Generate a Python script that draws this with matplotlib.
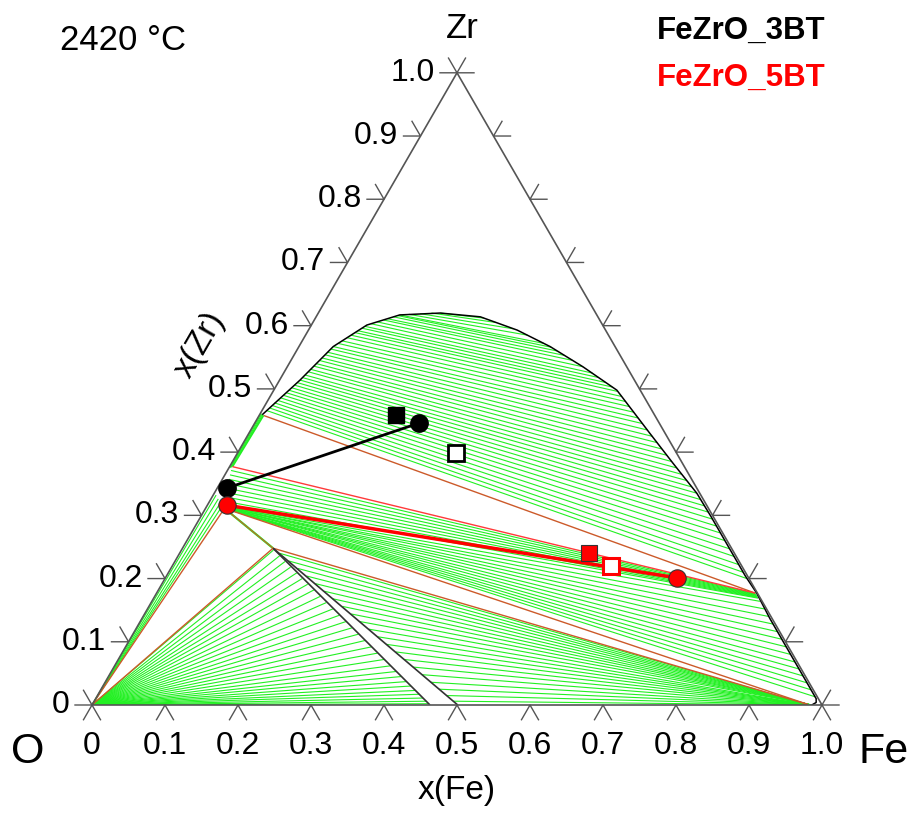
import numpy as np
import matplotlib
matplotlib.use("Agg")
import matplotlib.pyplot as plt
from matplotlib.collections import LineCollection

plt.rcParams['font.family'] = ['Liberation Sans', 'DejaVu Sans']

# ---------------- data (ternary: x(Fe), x(Zr)) ----------------
ticks = [0.0, 0.1, 0.2, 0.3, 0.4, 0.5, 0.6, 0.7, 0.8, 0.9, 1.0]
tick_labels = ["0", "0.1", "0.2", "0.3", "0.4", "0.5", "0.6", "0.7", "0.8", "0.9", "1.0"]

# liquid miscibility-gap boundary
dome_fe = [0.004, 0.028, 0.047, 0.076, 0.113, 0.167, 0.225, 0.286, 0.344, 0.405,
           0.470, 0.549, 0.604, 0.661, 0.699, 0.747, 0.793, 0.822, 0.860, 0.900,
           0.950, 0.975, 0.987, 0.990, 0.986]
dome_zr = [0.460, 0.514, 0.567, 0.601, 0.617, 0.620, 0.614, 0.593, 0.567, 0.535,
           0.498, 0.430, 0.383, 0.335, 0.298, 0.250, 0.204, 0.177, 0.137, 0.097,
           0.047, 0.022, 0.010, 0.004, 0.0]

# invariant points
pt_A = (0.006, 0.458)
pt_B = (0.004, 0.377)
pt_C = (0.820, 0.177)
pt_D = (0.026, 0.311)
pt_E = (0.124, 0.248)
pt_F = (0.980, 0.001)
pt_G = (0.463, 0.0)
pt_H = (0.501, 0.0)
pt_O = (0.0, 0.0)

# region 1 tie lines (L + L)
r1_lfe = [0.0058, 0.008, 0.0095, 0.011, 0.0132, 0.015, 0.0169, 0.019, 0.0206, 0.022,
          0.0243, 0.026, 0.028, 0.029, 0.0309, 0.033, 0.0341, 0.036, 0.0373, 0.039,
          0.0405, 0.042, 0.0438, 0.046, 0.047, 0.051, 0.0547, 0.059, 0.0624, 0.066,
          0.0683, 0.072, 0.0743, 0.081, 0.0876, 0.095, 0.0991, 0.106, 0.1107, 0.113,
          0.125, 0.140, 0.155, 0.167]
r1_lzr = [0.466, 0.470, 0.474, 0.478, 0.482, 0.486, 0.490, 0.494, 0.498, 0.502,
          0.506, 0.510, 0.514, 0.518, 0.522, 0.527, 0.531, 0.536, 0.540, 0.545,
          0.549, 0.554, 0.558, 0.563, 0.567, 0.572, 0.576, 0.581, 0.585, 0.589,
          0.592, 0.596, 0.599, 0.603, 0.606, 0.609, 0.611, 0.614, 0.616, 0.617,
          0.618, 0.619, 0.620, 0.620]
r1_rfe = [0.797, 0.787, 0.775, 0.762, 0.750, 0.737, 0.725, 0.714, 0.703, 0.692,
          0.6815, 0.671, 0.661, 0.649, 0.6373, 0.625, 0.6135, 0.602, 0.590, 0.578,
          0.5666, 0.555, 0.5432, 0.532, 0.5211, 0.511, 0.5002, 0.491, 0.4816, 0.472,
          0.4612, 0.449, 0.4349, 0.423, 0.405, 0.386, 0.3707, 0.357, 0.3459, 0.333,
          0.304, 0.280, 0.251, 0.231]
r1_rzr = [0.200, 0.210, 0.222, 0.235, 0.247, 0.260, 0.272, 0.283, 0.294, 0.305,
          0.315, 0.325, 0.335, 0.345, 0.355, 0.365, 0.375, 0.385, 0.395, 0.405,
          0.415, 0.425, 0.435, 0.445, 0.454, 0.463, 0.472, 0.480, 0.488, 0.496,
          0.503, 0.510, 0.518, 0.525, 0.535, 0.545, 0.553, 0.560, 0.566, 0.572,
          0.585, 0.595, 0.605, 0.612]

# narrow ZrO2 + liquid band along O-Zr edge
r0_lfe = [0.003, 0.002, 0.001]
r0_lzr = [0.376, 0.3755, 0.375]
r0_rfe = [0.0045, 0.003, 0.0015]
r0_rzr = [0.459, 0.460, 0.461]

# region 2 tie lines (ZrO2 + metallic liquid)
r2_lfe = [0.005, 0.007, 0.009, 0.011, 0.013, 0.016, 0.019, 0.022,
          0.026, 0.026, 0.027, 0.027, 0.027, 0.027, 0.027, 0.027, 0.027, 0.027,
          0.027, 0.027, 0.027, 0.027]
r2_lzr = [0.371, 0.364, 0.357, 0.350, 0.343, 0.336, 0.329, 0.322,
          0.315, 0.314, 0.314, 0.313, 0.313, 0.313, 0.312, 0.312, 0.312, 0.311,
          0.311, 0.311, 0.311, 0.311]
r2_rfe = [0.821, 0.822, 0.823, 0.824, 0.825, 0.826, 0.827, 0.828,
          0.833, 0.845, 0.857, 0.869, 0.881, 0.893, 0.905, 0.917, 0.929, 0.940,
          0.951, 0.962, 0.973, 0.984]
r2_rzr = [0.176, 0.175, 0.174, 0.173, 0.172, 0.171, 0.170, 0.169,
          0.164, 0.152, 0.140, 0.128, 0.116, 0.104, 0.092, 0.080, 0.068, 0.057,
          0.046, 0.035, 0.024, 0.013]

# region 3 tie lines (oxide liquid + metallic liquid)
r3_lfe = [0.137, 0.155, 0.174, 0.192, 0.210, 0.228, 0.246, 0.265, 0.283, 0.301, 0.319,
          0.337, 0.355, 0.374, 0.392, 0.410, 0.428, 0.446, 0.463, 0.478, 0.492]
r3_lzr = [0.240, 0.228, 0.216, 0.204, 0.192, 0.180, 0.168, 0.156, 0.144, 0.132, 0.120,
          0.108, 0.096, 0.084, 0.072, 0.060, 0.048, 0.036, 0.025, 0.015, 0.006]
r3_rfe = [0.980, 0.980, 0.980, 0.981, 0.981, 0.981, 0.981, 0.982, 0.982, 0.982, 0.982,
          0.982, 0.983, 0.983, 0.983, 0.984, 0.984, 0.984, 0.985, 0.985, 0.985]
r3_rzr = [0.001, 0.001, 0.001, 0.001, 0.001, 0.001, 0.001, 0.001, 0.001, 0.001, 0.0,
          0.0, 0.0, 0.0, 0.0, 0.0, 0.0, 0.0, 0.0, 0.0, 0.0]

# region 4 tie lines (gas + oxide liquid), from O corner
r4_fe = [0.126, 0.139, 0.151, 0.163, 0.176, 0.188, 0.200, 0.213, 0.227, 0.240, 0.254, 0.268,
         0.282, 0.295, 0.309, 0.323, 0.337, 0.350, 0.364, 0.378, 0.390, 0.401, 0.412, 0.422,
         0.431, 0.440, 0.448, 0.455, 0.460]
r4_zr = [0.245, 0.236, 0.227, 0.218, 0.209, 0.200, 0.191, 0.182, 0.172, 0.162, 0.152, 0.142,
         0.132, 0.122, 0.112, 0.102, 0.092, 0.082, 0.072, 0.062, 0.053, 0.045, 0.037, 0.030,
         0.023, 0.017, 0.011, 0.006, 0.002]

# gas + ZrO2 tie lines from O corner
r5_fe = [0.004, 0.010, 0.016, 0.021]
r5_zr = [0.332, 0.326, 0.320, 0.315]

# experimental tie lines / points
bt3_line_fe = [0.013, 0.225]
bt3_line_zr = [0.343, 0.446]
bt3_sq_fe, bt3_sq_zr = 0.187, 0.459
bt3_open_fe, bt3_open_zr = 0.299, 0.399
bt5_line_fe = [0.027, 0.701]
bt5_line_zr = [0.316, 0.201]
bt5_sq_fe, bt5_sq_zr = 0.561, 0.2405
bt5_open_fe, bt5_open_zr = 0.601, 0.220

# ---------------- helpers ----------------
S3 = np.sqrt(3) / 2


def cart(fe, zr):
    fe = np.asarray(fe, dtype=float)
    zr = np.asarray(zr, dtype=float)
    return fe + zr / 2, zr * S3


fig = plt.figure(figsize=(9.12, 8.14), dpi=100)
ax = fig.add_axes([92 / 912, 109 / 814, 730 / 912, 632 / 814])
ax.set_xlim(0, 1)
ax.set_ylim(0, 632 / 730)
ax.axis('off')

GREEN = '#22f022'
ORANGE = '#cc5a2a'


def tie_lines(lfe, lzr, rfe, rzr, color=GREEN, lw=0.8, z=2):
    x0, y0 = cart(lfe, lzr)
    x1, y1 = cart(rfe, rzr)
    segs = [[(a, b), (c, d)] for a, b, c, d in zip(x0, y0, x1, y1)]
    ax.add_collection(LineCollection(segs, colors=color, linewidths=lw, zorder=z))


def seg(p, q, color, lw=1.0, z=3):
    x, y = cart([p[0], q[0]], [p[1], q[1]])
    ax.plot(x, y, color=color, lw=lw, zorder=z, solid_capstyle='butt')


tie_lines(r1_lfe, r1_lzr, r1_rfe, r1_rzr)
tie_lines(r0_lfe, r0_lzr, r0_rfe, r0_rzr)
tie_lines(r2_lfe, r2_lzr, r2_rfe, r2_rzr)
tie_lines(r3_lfe, r3_lzr, r3_rfe, r3_rzr)
tie_lines([0.0] * len(r4_fe), [0.0] * len(r4_zr), r4_fe, r4_zr)
tie_lines([0.0] * len(r5_fe), [0.0] * len(r5_zr), r5_fe, r5_zr)

# three-phase triangle edges
seg(pt_A, pt_C, ORANGE)
seg(pt_A, pt_B, GREEN, 1.2)
seg(pt_B, pt_C, '#ff3a3a', 1.0)
seg(pt_D, pt_F, ORANGE)
seg(pt_E, pt_F, ORANGE)
seg(pt_D, pt_E, GREEN, 1.6)
seg(pt_D, pt_E, ORANGE, 0.8, 4)
seg(pt_O, pt_D, ORANGE)
seg(pt_O, pt_E, ORANGE)

# single-phase oxide liquid band
seg(pt_E, pt_G, '#333333', 1.2)
seg(pt_E, pt_H, '#333333', 1.2)

# dome boundary
dx, dy = cart(dome_fe, dome_zr)
ax.plot(dx, dy, color='black', lw=1.1, zorder=4)

# triangle frame
fx, fy = cart([0, 1, 0, 0], [0, 0, 1, 0])
ax.plot(fx, fy, color='#555555', lw=1.2, zorder=5, clip_on=False)

# ticks
L = 17 / 730
FS = 23
for t, lab in zip(ticks, tick_labels):
    bx, by = cart(t, 0)
    ax.plot([bx - 0.5 * L, bx, bx + 0.5 * L], [by - S3 * L, by, by - S3 * L],
            color='#555555', lw=1.0, clip_on=False, zorder=5)
    ax.text(bx, by - 41 / 730, lab, ha='center', va='center', fontsize=FS, clip_on=False)
    lx, ly = cart(0, t)
    ax.plot([lx - L, lx, lx - 0.5 * L], [ly, ly, ly + S3 * L],
            color='#555555', lw=1.0, clip_on=False, zorder=5)
    ax.text(lx - 22 / 730, ly, lab, ha='right', va='center', fontsize=FS, clip_on=False)
    rx, ry = cart(1 - t, t)
    ax.plot([rx + L, rx, rx + 0.5 * L], [ry, ry, ry + S3 * L],
            color='#555555', lw=1.0, clip_on=False, zorder=5)

# experimental data
ax.plot(*cart(bt3_line_fe, bt3_line_zr), color='black', lw=2.0, zorder=6)
ax.plot(*cart(bt3_line_fe, bt3_line_zr), 'o', ms=12.5, color='black', zorder=7)
ax.plot(*cart(bt3_sq_fe, bt3_sq_zr), 's', ms=11, color='black', zorder=7)
ax.plot(*cart(bt3_open_fe, bt3_open_zr), 's', ms=11, mfc='white', mec='black', mew=2, zorder=7)
ax.plot(*cart(bt5_line_fe, bt5_line_zr), color='red', lw=2.5, zorder=6)
ax.plot(*cart(bt5_line_fe, bt5_line_zr), 'o', ms=12.5, mfc='red', mec='#333333', mew=0.8, zorder=7)
ax.plot(*cart(bt5_sq_fe, bt5_sq_zr), 's', ms=11, mfc='red', mec='#333333', mew=0.8, zorder=7)
ax.plot(*cart(bt5_open_fe, bt5_open_zr), 's', ms=11, mfc='white', mec='red', mew=2.2, zorder=7)

# labels
ax.text((457 - 92) / 730, (705 - 790) / 730, "x(Fe)", ha='center', va='center', fontsize=24, clip_on=False)
ax.text((200 - 92) / 730, (705 - 345) / 730, "x(Zr)", ha='center', va='center', fontsize=24,
        rotation=60, clip_on=False)
ax.text((28 - 92) / 730, (705 - 752) / 730, "O", ha='center', va='center', fontsize=31, clip_on=False)
ax.text((884 - 92) / 730, (705 - 752) / 730, "Fe", ha='center', va='center', fontsize=31, clip_on=False)
ax.text((462 - 92) / 730, (705 - 28) / 730, "Zr", ha='center', va='center', fontsize=25, clip_on=False)

fig.text(60 / 912, 1 - 40 / 814, "2420 °C", ha='left', va='center', fontsize=25)
fig.text(657 / 912, 1 - 31 / 814, "FeZrO_3BT", ha='left', va='center', fontsize=22.5,
         fontweight='bold', color='black')
fig.text(657 / 912, 1 - 78 / 814, "FeZrO_5BT", ha='left', va='center', fontsize=22.5,
         fontweight='bold', color='red')

fig.savefig("out.png", dpi=100, facecolor='white')
